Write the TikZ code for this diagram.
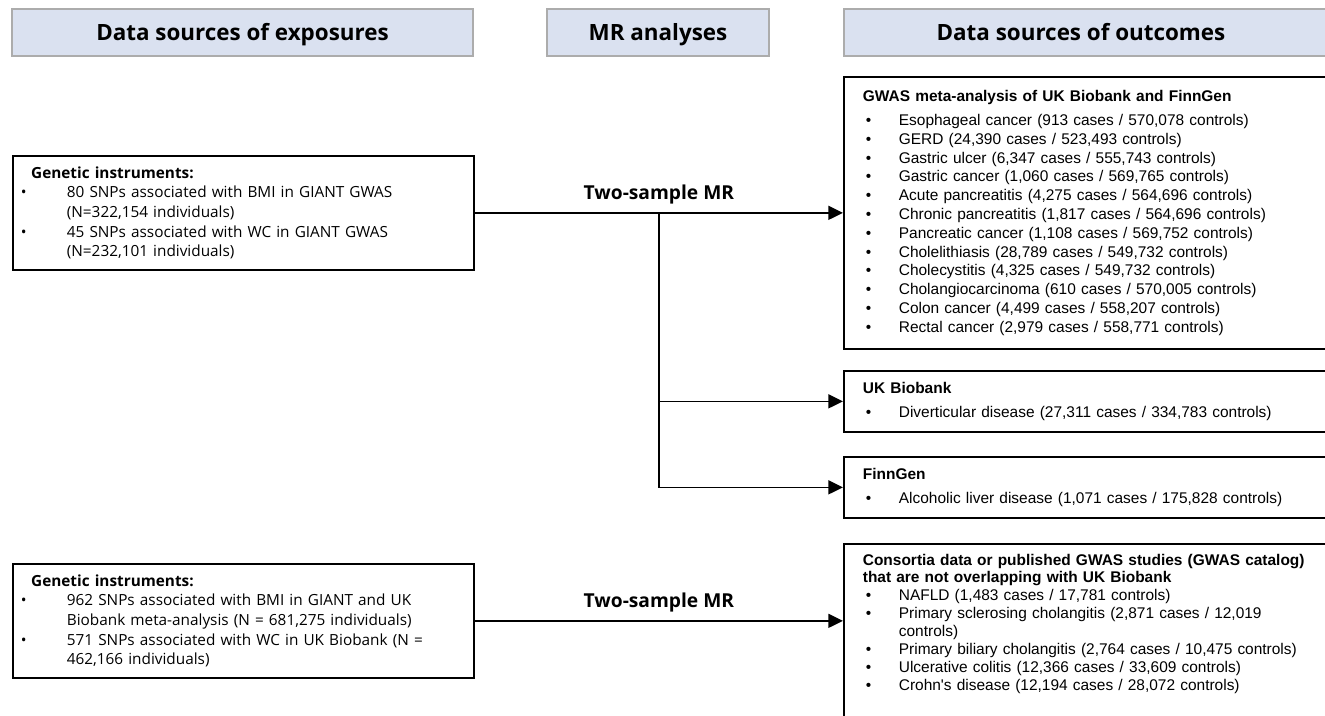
\documentclass[tikz,border=0pt]{standalone}
\usepackage{fontspec}
\setmainfont{Liberation Sans}
\newfontfamily\hdrfont{Open Sans}
\usepackage{tikz}
\usetikzlibrary{positioning,calc,arrows.meta}
\definecolor{hdrfill}{RGB}{218,225,240}
\definecolor{hdrline}{RGB}{172,172,172}
\newlength{\bhang}
\tikzset{
  hdr/.style={draw=hdrline,line width=1.5pt,fill=hdrfill,minimum height=35.25pt,inner sep=0pt,
    text height=13.8pt,text depth=2pt,font=\hdrfont\bfseries\fontsize{16.8}{20}\selectfont},
  srcbox/.style={draw,line width=1.3pt,anchor=north west,align=left,inner xsep=3.75pt,
    text width=338.25pt,minimum height=85.5pt,font=\hdrfont\fontsize{11.5}{14.8}\selectfont,
    execute at begin node={\setlength{\bhang}{36.75pt}}},
  outbox/.style={draw,line width=1.3pt,anchor=north west,align=left,inner xsep=14.25pt,
    text width=348pt,font=\fontsize{11.6}{14.1}\selectfont,
    execute at begin node={\setlength{\bhang}{27pt}}},
  conn/.style={line width=1.1pt,-{Triangle[length=11pt,width=10.5pt]}},
  mrlab/.style={font=\hdrfont\bfseries\fontsize{14.4}{17}\selectfont},
}
\newcommand{\bitem}[1]{\par\hangindent=\bhang\hangafter=1\noindent\makebox[\bhang][l]{\hspace{2.25pt}\textbullet}#1}
\newcommand{\boxhead}[1]{\textbf{#1}\par\vspace{4pt}}

\begin{document}
\begin{tikzpicture}[x=0.75pt,y=-0.75pt]
  \useasboundingbox (0,0) rectangle (1325,716);
  \clip (0,0) rectangle (1325,716);
  \node[hdr,minimum width=345.75pt] (hexp) at (242.5,33) {Data sources of exposures};
  \node[hdr,minimum width=166.5pt] (hmr) at (658,33) {MR analyses};
  \node[hdr,minimum width=376.5pt,anchor=west] (hout) at (843,33) {\hspace*{-21pt}Data sources of outcomes};

  \node[srcbox] (exp1) at (12,155) {\hspace*{10pt}\textbf{Genetic instruments:}
    \bitem{80 SNPs associated with BMI in GIANT GWAS\newline (N=322,154 individuals)}
    \bitem{45 SNPs associated with WC in GIANT GWAS\newline (N=232,101 individuals)}\par};
  \node[srcbox] (exp2) at (12,563) {\hspace*{10pt}\textbf{Genetic instruments:}
    \bitem{962 SNPs associated with BMI in GIANT and UK\newline Biobank meta-analysis (N = 681,275 individuals)}
    \bitem{571 SNPs associated with WC in UK Biobank (N =\newline 462,166 individuals)}\par};

  \node[outbox,minimum height=204pt] (out1) at (843,76) {\boxhead{GWAS meta-analysis of UK Biobank and FinnGen}
    \bitem{Esophageal cancer (913 cases / 570,078 controls)}
    \bitem{GERD (24,390 cases / 523,493 controls)}
    \bitem{Gastric ulcer (6,347 cases / 555,743 controls)}
    \bitem{Gastric cancer (1,060 cases / 569,765 controls)}
    \bitem{Acute pancreatitis (4,275 cases / 564,696 controls)}
    \bitem{Chronic pancreatitis (1,817 cases / 564,696 controls)}
    \bitem{Pancreatic cancer (1,108 cases / 569,752 controls)}
    \bitem{Cholelithiasis (28,789 cases / 549,732 controls)}
    \bitem{Cholecystitis (4,325 cases / 549,732 controls)}
    \bitem{Cholangiocarcinoma (610 cases / 570,005 controls)}
    \bitem{Colon cancer (4,499 cases / 558,207 controls)}
    \bitem{Rectal cancer (2,979 cases / 558,771 controls)}\par};
  \node[outbox,minimum height=45.75pt] (out2) at (843,370) {\boxhead{UK Biobank}
    \bitem{Diverticular disease (27,311 cases / 334,783 controls)}\par};
  \node[outbox,minimum height=45.75pt] (out3) at (843,456) {\boxhead{FinnGen}
    \bitem{Alcoholic liver disease (1,071 cases / 175,828 controls)}\par};
  \node[outbox,inner ysep=7.5pt,font=\fontsize{11.6}{13.5}\selectfont] (out4) at (843,543) {{\fontsize{11.6}{12.75}\selectfont\textbf{Consortia data or published GWAS studies (GWAS catalog)\newline that are not overlapping with UK Biobank}\par}
    \bitem{NAFLD (1,483 cases / 17,781 controls)}
    \bitem{Primary sclerosing cholangitis (2,871 cases / 12,019\newline controls)}
    \bitem{Primary biliary cholangitis (2,764 cases / 10,475 controls)}
    \bitem{Ulcerative colitis (12,366 cases / 33,609 controls)}
    \bitem{Crohn\textquotesingle s disease (12,194 cases / 28,072 controls)}\par\noindent\rule{0pt}{40pt}\par};

  \draw[conn] (exp1) -- node[mrlab,above=3pt] {Two-sample MR} (out1);
  \coordinate (br) at ($(exp1.east)!0.5!(out1.west)$);
  \foreach \o in {out2,out3}{\draw[conn] (br) |- (\o);}
  \draw[conn] (exp2) -- node[mrlab,above=3pt] {Two-sample MR} (exp2 -| out4.west);
\end{tikzpicture}
\end{document}
